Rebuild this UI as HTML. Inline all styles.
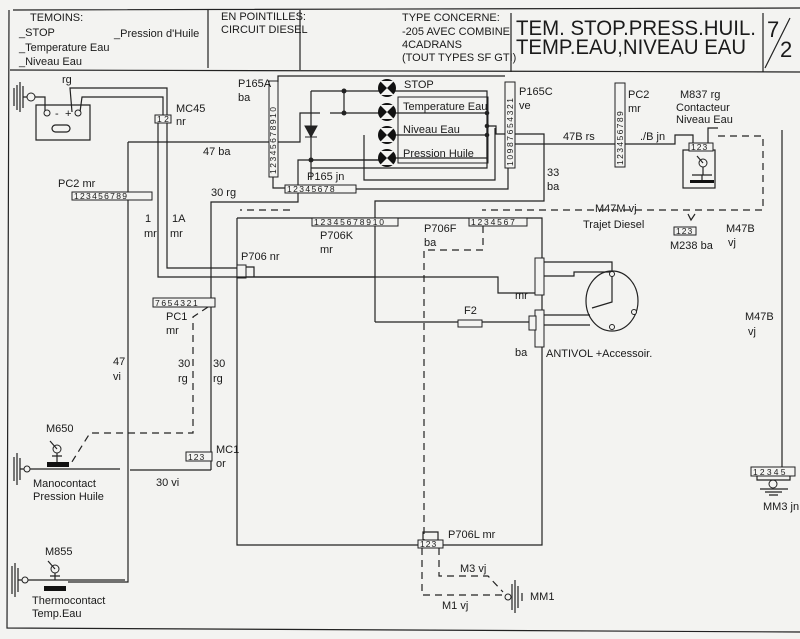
<!DOCTYPE html>
<html><head><meta charset="utf-8"><style>
html,body{margin:0;padding:0;background:#f3f3f1;}
svg{display:block;font-family:"Liberation Sans Narrow","Liberation Sans",sans-serif;}
text{fill:#1a1a1a;font-size:11px;}
.w{stroke:#222;stroke-width:1.2;fill:none;}
.d{stroke:#222;stroke-width:1.2;fill:none;stroke-dasharray:7,5;}
.c{stroke:#222;stroke-width:1;fill:#f3f3f1;}
.n{font-size:8.5px;}
</style></head><body>
<svg width="800" height="639" viewBox="0 0 800 639" xmlns="http://www.w3.org/2000/svg">
<!-- frame -->
<path class="w" d="M13 10 L800 8 M10 70 L800 72 M9 10 L7 628 L800 632" stroke-width="1.6"/>
<path class="w" d="M208 10 V68 M300 10 V70 M511 13 V72 M763 13 V72 M765 68 L790 18"/>
<text x="30" y="21">TEMOINS:</text>
<text x="19" y="36">_STOP</text>
<text x="114" y="37">_Pression d'Huile</text>
<text x="19" y="51">_Temperature Eau</text>
<text x="19" y="65">_Niveau Eau</text>
<text x="221" y="20">EN POINTILLES:</text>
<text x="221" y="33">CIRCUIT DIESEL</text>
<text x="402" y="21">TYPE CONCERNE:</text>
<text x="402" y="35">-205 AVEC COMBINE</text>
<text x="402" y="48">4CADRANS</text>
<text x="402" y="61">(TOUT TYPES SF GTI)</text>
<text x="516" y="35" style="font-size:21px" textLength="240" lengthAdjust="spacingAndGlyphs">TEM. STOP.PRESS.HUIL.</text>
<text x="516" y="54" style="font-size:21px" textLength="230" lengthAdjust="spacingAndGlyphs">TEMP.EAU,NIVEAU EAU</text>
<text x="767" y="37" style="font-size:22px">7</text>
<text x="780" y="57" style="font-size:22px">2</text>

<!-- battery -->
<path class="w" d="M14 88 V106 M17 85 V110 M20 82 V112 M23 86 V108 M23 97 H27"/>
<circle class="c" cx="31" cy="97" r="4"/>
<path class="w" d="M35 97 H45 V112 M36 105 H90 V140 H36 Z M72 112 L70 88 H167 V115 M80 112 L82 97 H163 V115"/>
<circle class="c" cx="47" cy="113" r="3"/><circle class="c" cx="78" cy="113" r="3"/>
<rect class="w" x="52" y="125" width="18" height="7" rx="3.5"/>
<text x="55" y="117">-</text><text x="65" y="117">+</text>
<text x="62" y="83">rg</text>
<rect class="c" x="155" y="115" width="16" height="8"/><text class="n" x="157" y="122">1 2</text>
<text x="176" y="112">MC45</text><text x="176" y="125">nr</text>
<path class="w" d="M158 123 V277 H237 M167 123 V268 H237"/>

<!-- 47 ba -->
<path class="w" d="M128 142 H270 M278 142 H300 V113 H320 M128 142 V582 H68"/>
<text x="203" y="155">47 ba</text>
<!-- PC2 left -->
<rect class="c" x="72" y="192" width="80" height="8"/><text class="n" x="74" y="199" letter-spacing="1.3">123456789</text>
<text x="58" y="187">PC2 mr</text>
<text x="145" y="222">1</text><text x="144" y="237">mr</text>
<text x="172" y="222">1A</text><text x="170" y="237">mr</text>

<!-- 30 rg -->
<path class="w" d="M211 470 V202 H298 V160 H380 M130 470 H211"/>
<text x="211" y="196">30 rg</text>

<!-- P165A -->
<rect class="c" x="269" y="81" width="9" height="96"/>
<text class="n" x="276" y="174" transform="rotate(-90 276 174)" letter-spacing="1.5">12345678910</text>
<text x="238" y="87">P165A</text><text x="238" y="101">ba</text>
<path class="w" d="M273 177 V188 H285 M278 82 V76 H505"/>
<rect class="c" x="285" y="185" width="71" height="8"/><text class="n" x="287" y="192" letter-spacing="1.4">12345678</text>
<text x="307" y="180">P165 jn</text>
<!-- lamp block -->
<path class="w" d="M311 91 H487 V168 H311 M311 91 V180 M344 91 V113 M330 113 H380 M311 160 H380 M380 91 H410 M380 135 H487 M380 158 H487 M487 113 H380 M364 135 V180 H495 V128 M356 189 H508 V168"/>
<path d="M305 126 H317 L311 137 Z M305 137 H317" stroke="#222" fill="#222"/>
<circle cx="344" cy="91" r="2.5" fill="#222"/><circle cx="344" cy="113" r="2.5" fill="#222"/><circle cx="311" cy="160" r="2.5" fill="#222"/>
<circle cx="487" cy="113" r="2.3" fill="#222"/><circle cx="487" cy="126" r="2.3" fill="#222"/><circle cx="487" cy="135" r="2.3" fill="#222"/>
<g fill="#111">
<circle cx="387" cy="88" r="9"/><circle cx="387" cy="112" r="9"/><circle cx="387" cy="135" r="9"/><circle cx="387" cy="158" r="9"/>
</g>
<g fill="#f3f3f1">
<path d="M380 81 L394 81 L387 88 Z M380 95 L394 95 L387 88 Z"/>
<path d="M380 105 L394 105 L387 112 Z M380 119 L394 119 L387 112 Z"/>
<path d="M380 128 L394 128 L387 135 Z M380 142 L394 142 L387 135 Z"/>
<path d="M380 151 L394 151 L387 158 Z M380 165 L394 165 L387 158 Z"/>
</g>
<rect x="398" y="97" width="90" height="66" fill="none" stroke="#222"/>
<text x="404" y="88">STOP</text>
<text x="403" y="110">Temperature Eau</text>
<text x="403" y="133">Niveau Eau</text>
<text x="403" y="157">Pression Huile</text>
<!-- P165C -->
<rect class="c" x="505" y="82" width="10" height="86"/>
<text class="n" x="513" y="166" transform="rotate(-90 513 166)" letter-spacing="1.6">10987654321</text>
<text x="519" y="95">P165C</text><text x="519" y="109">ve</text>
<path class="w" d="M487 126 H496 V134 H505 M515 134 H544 V201 H375 V218 M515 144 H615 M487 126 V160"/>
<text x="547" y="176">33</text><text x="547" y="190">ba</text>
<text x="563" y="140">47B rs</text>
<!-- PC2 right -->
<rect class="c" x="615" y="83" width="10" height="84"/>
<text class="n" x="623" y="165" transform="rotate(-90 623 165)" letter-spacing="1.4">123456789</text>
<text x="628" y="98">PC2</text><text x="628" y="112">mr</text>
<path class="w" d="M625 144 H675 V135 H693 V143 M708 143 V128 H718"/>
<text x="640" y="140">./B jn</text>
<text x="680" y="98">M837 rg</text><text x="676" y="111">Contacteur</text><text x="676" y="123">Niveau Eau</text>
<rect class="w" x="683" y="150" width="32" height="38"/>
<rect class="c" x="689" y="143" width="24" height="8"/><text class="n" x="691" y="150" letter-spacing="1">123</text>
<circle class="c" cx="703" cy="163" r="4"/><path class="w" d="M697 156 L703 163 M703 167 V175 M692 175 H712 M702 175 V180"/>
<rect x="690" y="180" width="24" height="3" fill="#111"/>
<path class="d" d="M718 136 H763 V210 H482 M290 210 H240"/>
<text x="595" y="212">M47M vj</text><text x="583" y="228">Trajet Diesel</text>
<path class="w" d="M688 214 L691 220 L695 214"/>
<rect class="c" x="674" y="227" width="22" height="8"/><text class="n" x="676" y="234" letter-spacing="1">123</text>
<text x="670" y="249">M238 ba</text>
<text x="726" y="232">M47B</text><text x="728" y="246">vj</text>
<path class="w" d="M782 130 V467"/>
<text x="745" y="320">M47B</text><text x="748" y="335">vj</text>
<rect class="c" x="751" y="467" width="44" height="9"/><text class="n" x="753" y="475" letter-spacing="2.2">12345</text>
<circle class="c" cx="773" cy="484" r="4"/>
<path class="w" d="M757 476 V480 H790 V476 M760 489 H788 M765 492 H782 M769 495 H778"/>
<text x="763" y="510">MM3 jn</text>

<!-- P706 big box -->
<path class="w" d="M237 218 V545 H542 V218 H237"/>
<rect class="c" x="312" y="218" width="86" height="8"/><text class="n" x="314" y="225" letter-spacing="1.8">12345678910</text>
<text x="320" y="239">P706K</text><text x="320" y="253">mr</text>
<rect class="c" x="469" y="218" width="58" height="8"/><text class="n" x="471" y="225" letter-spacing="1.8">1234567</text>
<path class="d" d="M483 226 V250 H424 V540"/>
<text x="424" y="232">P706F</text><text x="424" y="246">ba</text>
<rect class="c" x="237" y="265" width="9" height="13"/>
<path class="w" d="M246 267 H254 V277 H237 M246 277 H375 M375 226 V322"/>
<text x="241" y="260">P706 nr</text>
<path class="w" d="M246 277 H498 V293 H535 M375 322 H458 M482 322 H535"/>
<rect class="c" x="458" y="320" width="24" height="7"/>
<text x="464" y="314">F2</text>
<text x="515" y="299">mr</text><text x="515" y="356">ba</text>
<rect class="c" x="535" y="258" width="9" height="37"/>
<rect class="c" x="535" y="310" width="9" height="37"/>
<rect class="c" x="529" y="316" width="7" height="14"/>
<path class="w" d="M544 262 H612 V274 M544 276 H574 V272 H612 M544 315 H590 M544 325 H590 M612 274 V302 L592 308"/>
<ellipse class="w" cx="612" cy="301" rx="26" ry="30"/>
<circle class="c" cx="612" cy="274" r="2.5"/><circle class="c" cx="612" cy="327" r="2.5"/><circle class="c" cx="634" cy="312" r="2.5"/>
<text x="546" y="357">ANTIVOL +Accessoir.</text>
<!-- PC1 -->
<rect class="c" x="153" y="298" width="62" height="9"/><text class="n" x="155" y="306" letter-spacing="1.6">7654321</text>
<text x="166" y="320">PC1</text><text x="166" y="334">mr</text>
<path class="d" d="M208 307 L193 317 V433 H90 L70 465"/>
<text x="113" y="365">47</text><text x="113" y="380">vi</text>
<text x="178" y="367">30</text><text x="178" y="382">rg</text>
<text x="213" y="367">30</text><text x="213" y="382">rg</text>
<rect class="c" x="186" y="452" width="26" height="9"/><text class="n" x="188" y="460" letter-spacing="1">123</text>
<text x="216" y="453">MC1</text><text x="216" y="467">or</text>
<text x="156" y="486">30 vi</text>
<!-- M650 -->
<path class="w" d="M14 457 V481 M17 453 V485 M20 458 V480 M20 469 H24 M30 469 H120"/>
<circle class="c" cx="27" cy="469" r="3"/>
<rect x="47" y="462" width="22" height="5" fill="#111"/>
<circle class="c" cx="57" cy="449" r="4"/><path class="w" d="M50 441 L57 449 M57 453 V462 M52 456 H62"/>
<text x="46" y="432">M650</text>
<text x="33" y="487">Manocontact</text><text x="33" y="500">Pression Huile</text>
<!-- M855 -->
<path class="w" d="M12 566 V594 M15 563 V597 M18 568 V592 M18 580 H22 M28 580 H125"/>
<circle class="c" cx="25" cy="580" r="3"/>
<rect x="44" y="586" width="22" height="5" fill="#111"/>
<circle class="c" cx="55" cy="569" r="4"/><path class="w" d="M48 561 L55 569 M55 573 V580 M50 576 H60"/>
<text x="45" y="555">M855</text>
<text x="32" y="604">Thermocontact</text><text x="32" y="617">Temp.Eau</text>
<!-- P706L -->
<rect class="c" x="418" y="540" width="25" height="8"/><text class="n" x="420" y="547" letter-spacing="1">123</text>
<path class="w" d="M423 540 V532 H438 V540"/>
<text x="448" y="538">P706L mr</text>
<path class="d" d="M422 548 V595 H505 M439 548 V576 H488 L503 592"/>
<text x="460" y="572">M3 vj</text><text x="442" y="609">M1 vj</text>
<circle class="c" cx="508" cy="597" r="3"/>
<path class="w" d="M512 584 V610 M515 580 V613 M518 586 V608 M522 593 V601"/>
<text x="530" y="600">MM1</text>
</svg>
</body></html>
